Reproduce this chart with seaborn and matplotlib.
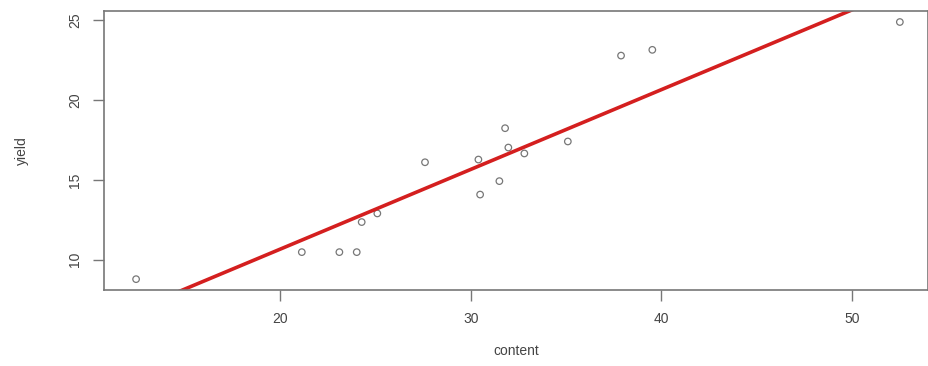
import numpy as np
import pandas as pd
import matplotlib
matplotlib.use("Agg")
import matplotlib.pyplot as plt
import seaborn as sns

# values
content = [12.45, 21.14, 23.11, 24.02, 24.28, 25.10, 27.60, 30.40, 30.49,
           31.50, 31.80, 31.97, 32.81, 35.09, 37.88, 39.52, 52.50]
yield_ = [8.79, 10.48, 10.48, 10.48, 12.36, 12.90, 16.10, 16.27, 14.08,
          14.92, 18.23, 17.02, 16.65, 17.40, 22.77, 23.13, 24.87]
x_ticks = [20, 30, 40, 50]
y_ticks = [10, 15, 20, 25]

df = pd.DataFrame({"content": content, "yield": yield_})

sns.set_style("white")
plt.rcParams["font.family"] = ["Liberation Sans", "DejaVu Sans"]

fig = plt.figure(figsize=(9.29, 3.66), dpi=100)
ax = fig.add_axes([0.112, 0.208, 0.887, 0.762])

xlim = (10.77, 53.98)
ylim = (8.12, 25.56)
ax.set_xlim(*xlim)
ax.set_ylim(*ylim)

# fitted line spans the whole plotting region (truncate=False)
sns.regplot(data=df, x="content", y="yield", ax=ax, ci=None, truncate=False,
            scatter_kws=dict(marker="o", s=22, facecolors="none",
                             edgecolors="#555555", linewidths=0.9),
            line_kws=dict(color="#d41f1f", lw=2.6))

ax.set_xlim(*xlim)
ax.set_ylim(*ylim)

ax.set_xticks(x_ticks)
ax.set_yticks(y_ticks)
ax.tick_params(axis="both", direction="out", length=8, width=1,
               bottom=True, left=True,
               color="#777777", labelcolor="#444444", labelsize=10, pad=8)
for lab in ax.get_yticklabels():
    lab.set_rotation(90)
    lab.set_va("center")

for s in ax.spines.values():
    s.set_color("#777777")
    s.set_linewidth(1.2)

ax.set_xlabel("content", fontsize=10, color="#444444", labelpad=13)
ax.set_ylabel("yield", fontsize=10, color="#444444", labelpad=28)

fig.savefig("out.png", dpi=100)
